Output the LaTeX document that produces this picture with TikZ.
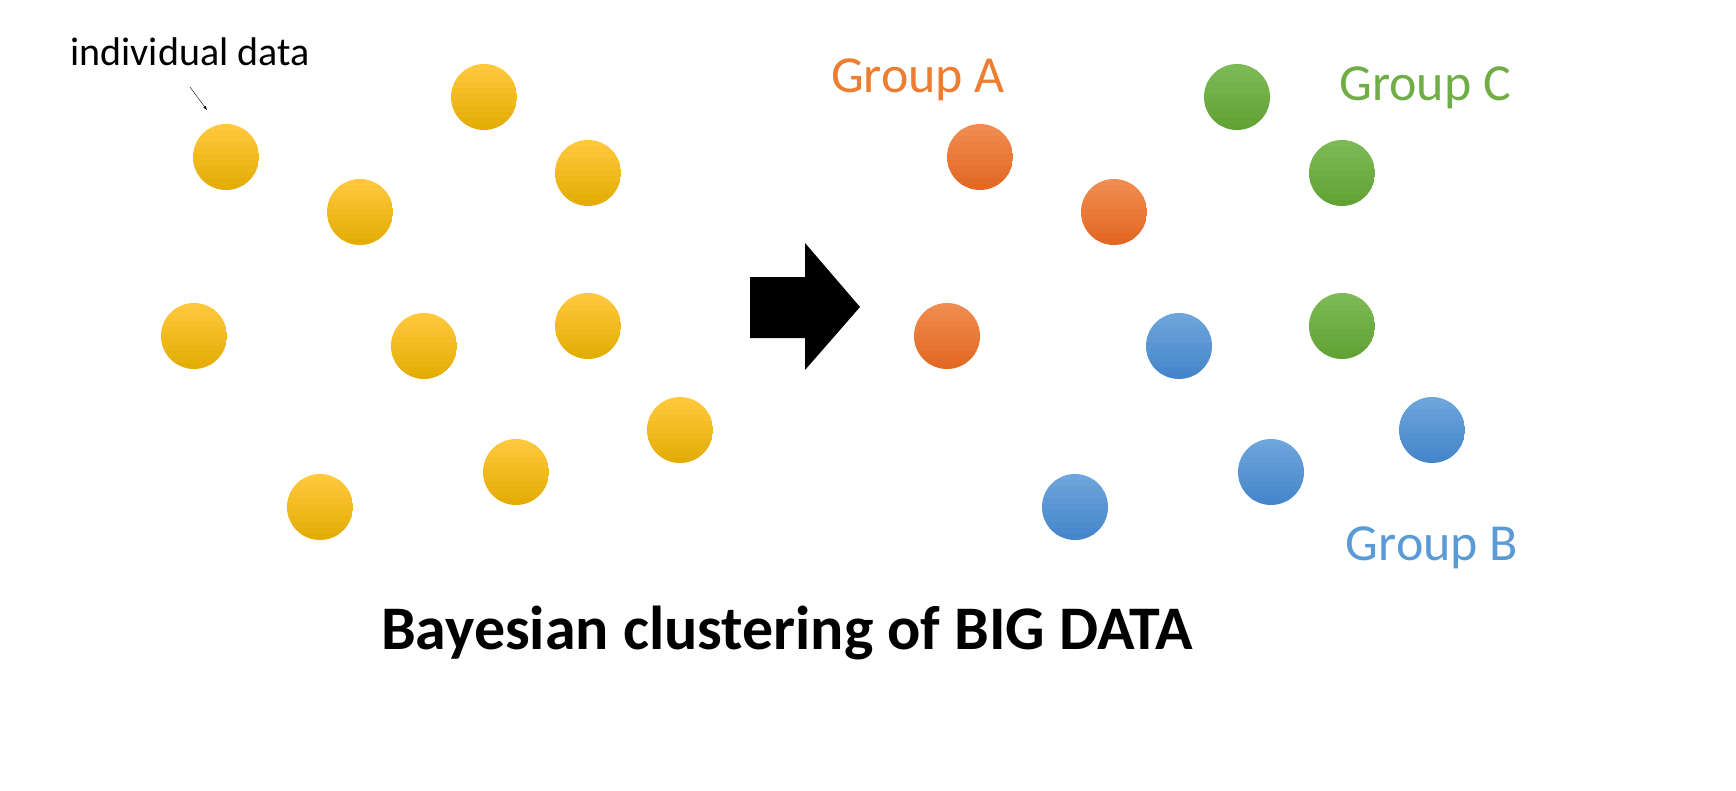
\documentclass[tikz,border=0pt]{standalone}
\usepackage{fontspec}
\setmainfont{Carlito}
\definecolor{yelT}{RGB}{255,200,60}\definecolor{yelB}{RGB}{225,170,0}
\definecolor{orT}{RGB}{240,140,80}\definecolor{orB}{RGB}{225,100,30}
\definecolor{grT}{RGB}{125,185,85}\definecolor{grB}{RGB}{95,160,50}
\definecolor{blT}{RGB}{110,165,220}\definecolor{blB}{RGB}{65,130,200}
\definecolor{orTxt}{RGB}{237,125,49}\definecolor{grTxt}{RGB}{112,173,71}\definecolor{blTxt}{RGB}{91,155,213}
\tikzset{dot/.style 2 args={circle,minimum size=66pt,inner sep=0pt,
  path picture={\foreach \i in {0,...,11}{\pgfmathsetmacro\pc{100-\i*100/11}
    \fill[color=#1!\pc!#2] ([yshift=-\i*6pt]path picture bounding box.north west) rectangle ([yshift=-\i*6pt-6.5pt]path picture bounding box.north east);}}},
ydot/.style={dot={yelT}{yelB}},odot/.style={dot={orT}{orB}},gdot/.style={dot={grT}{grB}},bdot/.style={dot={blT}{blB}}}
\begin{document}
\begin{tikzpicture}[x=1pt,y=-1pt]
\useasboundingbox (0,0) rectangle (1736,790);
\foreach \n/\x/\y in {y1/226/157,y2/484/97,y3/360/212,y4/588/173,y5/194/336,y6/424/346,y7/588/326,y8/680/430,y9/516/472,y10/320/507}
  \node[ydot] (\n) at (\x,\y) {};
\foreach \n/\x/\y in {o1/980/157,o2/1114/212,o3/947/336}
  \node[odot] (\n) at (\x,\y) {};
\foreach \n/\x/\y in {g1/1237/97,g2/1342/173,g3/1342/326}
  \node[gdot] (\n) at (\x,\y) {};
\foreach \n/\x/\y in {b1/1179/346,b2/1432/430,b3/1271/472,b4/1075/507}
  \node[bdot] (\n) at (\x,\y) {};
\fill (750,277) -- (805,277) -- (805,243) -- (860,307) -- (805,370) -- (805,338) -- (750,338) -- cycle;
\node[font=\fontsize{40}{44}\selectfont] (lbl) at (190,52) {individual data};
\coordinate (la) at (190,87);
\draw[-latex,thin] (la) -- (207,110);
\node[font=\fontsize{52}{56}\selectfont,text=orTxt] (ga) at (918,80) {Group A};
\node[font=\fontsize{52}{56}\selectfont,text=grTxt] (gc) at (1425,88) {Group C};
\node[font=\fontsize{52}{56}\selectfont,text=blTxt] (gb) at (1432,548) {Group B};
\node[font=\fontsize{62}{66}\selectfont\bfseries] (title) at (787,633) {Bayesian clustering of BIG DATA};
\end{tikzpicture}
\end{document}
